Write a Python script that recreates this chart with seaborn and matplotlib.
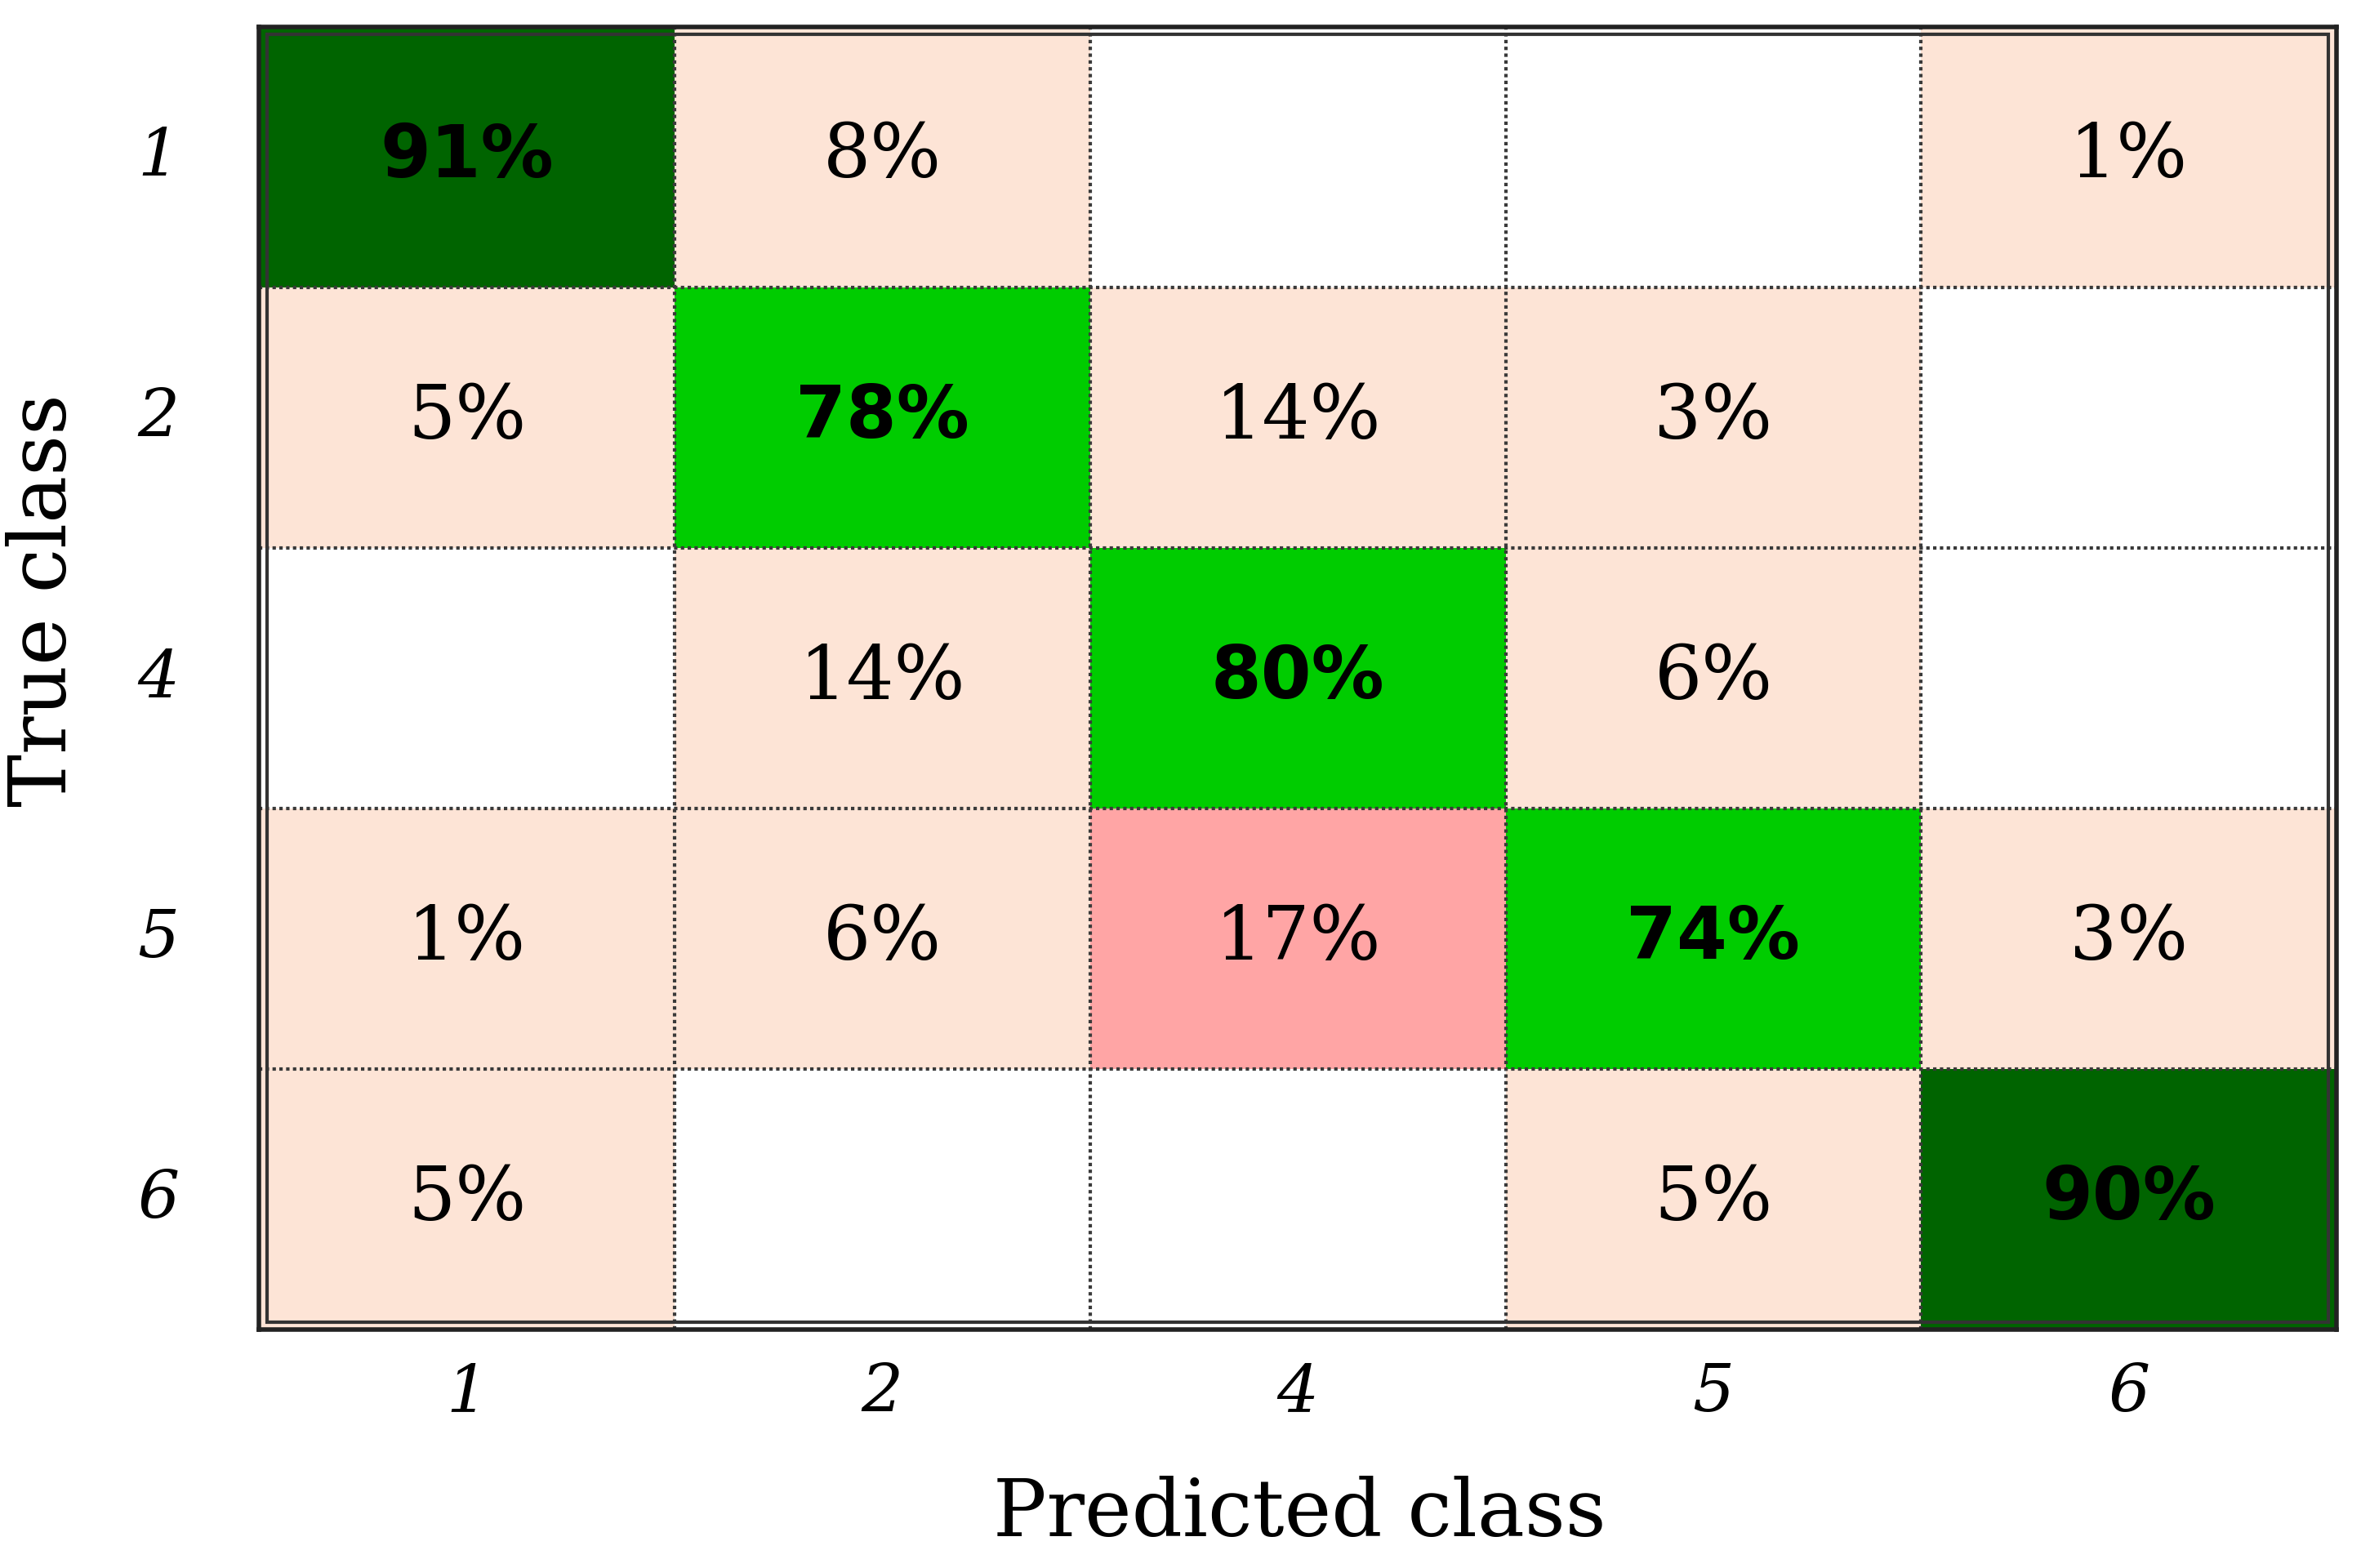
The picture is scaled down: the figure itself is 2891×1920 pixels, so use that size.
import numpy as np
import pandas as pd
import seaborn as sns
import matplotlib.pyplot as plt
from matplotlib.colors import ListedColormap
from matplotlib.patches import Rectangle

# Confusion matrix values (percent), rows = true class, cols = predicted class
classes = ["1", "2", "4", "5", "6"]
row_1 = [91, 8, 0, 0, 1]
row_2 = [5, 78, 14, 3, 0]
row_4 = [0, 14, 80, 6, 0]
row_5 = [1, 6, 17, 74, 3]
row_6 = [5, 0, 0, 5, 90]

cm = pd.DataFrame([row_1, row_2, row_4, row_5, row_6], index=classes, columns=classes)
vals = cm.values

# colour category per cell: 0 empty, 1 small error, 2 big error, 3 correct, 4 very good
cat = np.zeros_like(vals)
for i in range(vals.shape[0]):
    for j in range(vals.shape[1]):
        v = vals[i, j]
        if v == 0:
            cat[i, j] = 0
        elif i == j:
            cat[i, j] = 4 if v >= 85 else 3
        else:
            cat[i, j] = 2 if v > 15 else 1

labels = np.where(vals > 0, vals.astype(str).astype(object) + "%", "")

cmap = ListedColormap(["#FFFFFF", "#FDE4D6", "#FFA5A5", "#00CC00", "#006400"])

fig = plt.figure(figsize=(28.91, 19.2), dpi=100)
ax = fig.add_axes([0.1097, 0.152, 0.880, 0.831])
sns.heatmap(cat, ax=ax, cmap=cmap, vmin=-0.5, vmax=4.5, cbar=False,
            annot=labels, fmt="", xticklabels=classes, yticklabels=classes,
            annot_kws={"color": "black", "fontsize": 66, "family": "DejaVu Serif"})

# bold on the diagonal
n = len(classes)
for t in ax.texts:
    x, y = t.get_position()
    if int(x) == int(y):
        t.set_family("DejaVu Sans")
        t.set_fontweight("bold")
        t.set_fontsize(64)

# dotted cell borders
for k in range(1, n):
    ax.axhline(k, color="#3a3a3a", linestyle=(0, (1, 1)), lw=3)
    ax.axvline(k, color="#3a3a3a", linestyle=(0, (1, 1)), lw=3)

# double frame
for s in ax.spines.values():
    s.set_visible(True)
    s.set_color("#222222")
    s.set_linewidth(4)
ax.add_patch(Rectangle((0.004, 0.006), 0.992, 0.988, transform=ax.transAxes,
                       fill=False, edgecolor="#333333", lw=3, zorder=5))

ax.tick_params(length=0)
ax.tick_params(axis="y", pad=70)
ax.tick_params(axis="x", pad=28)
for lab in ax.get_xticklabels() + ax.get_yticklabels():
    lab.set_family("DejaVu Serif")
    lab.set_style("italic")
    lab.set_fontsize(58)
    lab.set_rotation(0)

ax.set_xlabel("Predicted class", fontsize=70, family="DejaVu Serif")
ax.set_ylabel("True class", fontsize=70, family="DejaVu Serif")
ax.xaxis.set_label_coords(0.501, -0.112)
ax.yaxis.set_label_coords(-0.085, 0.56)

plt.savefig("out.png", dpi=100)
